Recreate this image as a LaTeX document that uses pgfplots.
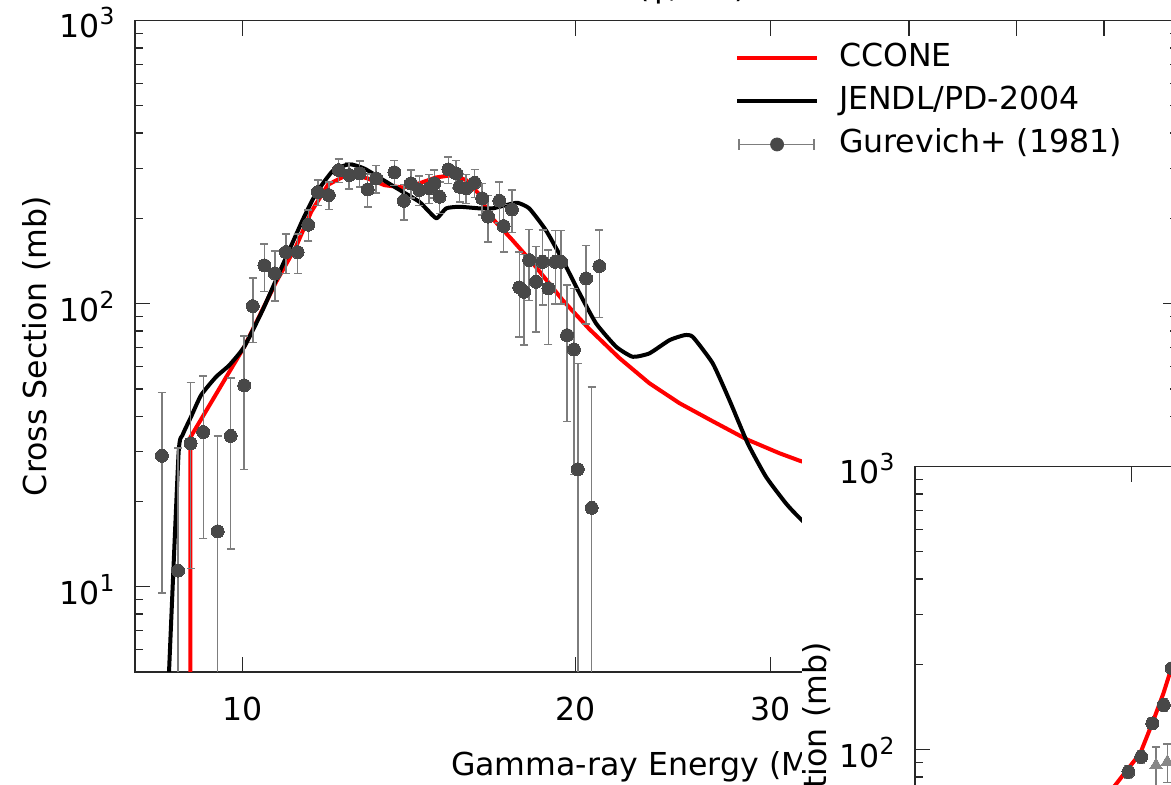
\documentclass[border=0pt]{standalone}
\usepackage{pgfplots}
\pgfplotsset{compat=1.18}
\usepackage{pgfplotstable}
\usepackage{fontspec}
\setmainfont{DejaVu Sans}

\definecolor{cconered}{RGB}{255,0,0}
\definecolor{ptgray}{RGB}{72,72,72}
\definecolor{bargray}{RGB}{125,125,125}
\definecolor{framec}{RGB}{40,40,40}
\definecolor{trigray}{RGB}{135,135,135}

% power-of-ten tick label with a gnuplot-like raised exponent
\newcommand{\pten}[1]{10\raisebox{6.5pt}{\fontsize{11.7pt}{14pt}\selectfont #1}}

% Gurevich+ (1981): energy (MeV), cross section (mb), error up, error down
\pgfplotstableread{
E S EP EM
8.46 29.0 19.5 19.5
8.75 11.4 19.5 10.4
8.98 32.1 20.5 20.5
9.22 35.2 20.4 20.4
9.50 15.7 18.4 14.7
9.76 34.1 20.5 20.5
10.04 51.4 25.4 25.4
10.22 98.0 25.0 25.0
10.47 136.5 26.0 26.0
10.70 127.8 25.5 25.5
10.95 152.1 24.2 24.2
11.22 152.0 24.2 24.2
11.47 190.0 23.7 23.7
11.70 247.7 25.5 25.5
11.97 241.7 27.0 27.0
12.22 296.3 28.3 28.3
12.49 284.5 30.0 30.0
12.76 288.4 30.0 30.0
12.98 253.0 34.0 34.0
13.21 277.0 31.0 31.0
13.72 291.0 29.5 29.5
13.99 230.8 33.0 33.0
14.20 266.0 30.0 30.0
14.45 251.8 30.0 30.0
14.75 255.3 30.0 30.0
14.91 265.9 30.0 30.0
15.07 238.4 30.0 30.0
15.35 298.0 32.0 32.0
15.60 288.4 32.0 32.0
15.71 258.6 30.0 30.0
15.93 255.3 30.0 30.0
16.21 267.3 30.0 30.0
16.47 235.3 30.0 30.0
16.67 203.0 38.0 38.0
17.07 230.8 38.0 38.0
17.22 187.9 36.0 36.0
17.52 215.2 37.0 37.0
17.79 114.1 38.0 38.0
17.97 110.1 38.8 38.8
18.16 142.5 40.0 40.0
18.42 119.4 40.0 40.0
18.67 140.5 41.5 41.5
18.90 113.2 41.5 41.5
19.18 140.5 41.0 41.0
19.41 140.5 41.0 41.0
19.65 77.4 39.0 39.0
19.93 68.9 44.0 44.0
20.09 26.0 35.5 25.0
20.44 122.7 38.0 38.0
20.68 19.0 31.8 18.0
21.01 135.7 46.5 46.5
}\gurevich

% second panel: measured points
\pgfplotstableread{
E S EP EM
9.944 83.5 4 4
10.21 94.3 5 5
10.45 123.8 6 6
10.70 143.8 7 7
10.88 194.0 8 8
}\insetcirc
\pgfplotstableread{
E S EP EM
10.53 88.1 14 14
10.78 90.5 14 14
}\insettri

\begin{document}
\begin{tikzpicture}[font=\fontsize{15.8pt}{19pt}\selectfont]
\useasboundingbox (0,0) rectangle (585.5pt,392.5pt);
\clip (0,0) rectangle (585.5pt,392.5pt);

\begin{axis}[at={(67.5pt,56.5pt)}, anchor=south west,
  scale only axis, width=521.5pt, height=325.75pt,
  xmode=log, ymode=log, xmin=8, xmax=70, ymin=5, ymax=1000,
  xtick={10,20,30,40,50,60,70}, xticklabels={10,20,30,40,50,60,70},
  ytick={10,100,1000}, yticklabels={\pten{1},\pten{2},\pten{3}},
  minor ytick={6,7,8,9,20,30,40,50,60,70,80,90,200,300,400,500,600,700,800,900},
  minor xtick={},
  tick align=inside,
  major tick length=7.75pt, minor tick length=4pt,
  tick style={framec, line width=0.7pt},
  axis line style={framec, line width=0.7pt},
  xticklabel style={inner sep=0pt, yshift=-12.5pt},
  yticklabel style={inner sep=0pt, xshift=-10pt, yshift=-1.25pt},
  xlabel={Gamma-ray Energy (MeV)}, ylabel={Cross Section (mb)},
  xlabel style={at={(axis description cs:0.5,0)}, anchor=base, yshift=-52pt},
  ylabel style={at={(axis description cs:-0.0845,0.5)}, rotate=0, anchor=base},
  title={\textsuperscript{63}Cu(γ,abs)},
  title style={at={(axis description cs:0.5,1)}, anchor=base, yshift=5.5pt},
  legend cell align=left,
  legend style={at={(axis description cs:0.5753,0.9655)}, anchor=north west,
    draw=none, fill=none, inner sep=0pt, outer sep=0pt,
    row sep=6pt, column sep=10pt,
    nodes={inner sep=0pt, text height=12pt, text depth=3.5pt}},
]
\addplot[cconered, line width=2pt, line join=round,
  legend image code/.code={\draw[cconered, line width=2pt] (0pt,0pt) -- (40pt,0pt);}]
  coordinates {(8.975,1) (8.976,33.7) (10.04,70.4) (10.73,119.4) (11.18,158.8)
  (11.54,211) (11.95,263) (12.49,287.7) (12.97,277) (13.44,262) (13.98,257)
  (14.45,266) (14.96,279) (15.49,284.5) (15.93,273) (16.37,243) (16.72,205)
  (17.54,167.6) (18.35,137) (19.47,102.9) (20.58,81.26) (21.91,64.18)
  (23.31,52.37) (24.82,44.5) (26.59,38.44) (28.53,33.2) (30.55,29.63)
  (31.86,27.88) (34.6,25.18)};
\addlegendentry{CCONE}

\addplot[black, line width=2pt, line join=round, smooth, tension=0.3,
  legend image code/.code={\draw[black, line width=2pt] (0pt,0pt) -- (40pt,0pt);}]
  coordinates {(8.565,3.97) (8.757,29.15) (8.831,34.3) (8.988,39.8) (9.178,47.5)
  (9.468,55.1) (9.733,60.6) (10.04,70.4) (10.431,94.8) (10.874,136.8)
  (11.336,197.2) (11.657,245.1) (12.066,293.9) (12.494,310.7) (12.89,299.9)
  (13.39,274) (13.96,248.3) (14.45,228.9) (14.7,214) (14.98,200) (15.28,217)
  (15.71,219.8) (16.37,217) (16.83,217) (17.31,222.8) (17.72,227.1) (18.16,217)
  (18.80,181.9) (19.47,142.5) (20.16,108.9) (20.87,85.1) (21.76,70.4)
  (22.52,64.9) (23.31,66.7) (24.31,74.3) (25.08,77.4) (25.52,76.3) (26.6,61.5)
  (27.54,45.6) (28.61,32.06) (29.72,24.43) (30.98,19.68) (31.9,17.42) (34.6,12.9)};
\addlegendentry{JENDL/PD-2004}

\addplot[only marks, mark=*, mark size=3.25pt,
  mark options={draw=ptgray, fill=ptgray, line width=0pt},
  legend image code/.code={
    \draw[bargray, line width=0.75pt] (1pt,0pt) -- (38.5pt,0pt);
    \draw[bargray, line width=0.75pt] (1pt,-2.75pt) -- (1pt,2.75pt);
    \draw[bargray, line width=0.75pt] (38.5pt,-2.75pt) -- (38.5pt,2.75pt);
    \fill[ptgray] (20pt,0pt) circle (3.25pt);},
  error bars/y dir=both, error bars/y explicit,
  error bars/error bar style={bargray, line width=0.75pt},
  error bars/error mark options={rotate=90, bargray, mark size=2pt, line width=0.75pt}]
  table[x=E, y=S, y error plus=EP, y error minus=EM]{\gurevich};
\addlegendentry{Gurevich+ (1981)}
\end{axis}

% the neighbouring panel sits on top of this one
\fill[white] (401pt,-200pt) rectangle (600pt,172.5pt);

\begin{axis}[at={(457.5pt,-166.5pt)}, anchor=south west,
  scale only axis, width=521.5pt, height=325.75pt,
  xmode=log, ymode=log, xmin=6.38, xmax=55.8, ymin=5, ymax=1000,
  xtick={10,20,30,40,50}, xticklabels={10,20,30,40,50},
  ytick={10,100,1000}, yticklabels={\pten{1},\pten{2},\pten{3}},
  minor ytick={6,7,8,9,20,30,40,50,60,70,80,90,200,300,400,500,600,700,800,900},
  minor xtick={},
  tick align=inside,
  major tick length=7.75pt, minor tick length=4pt,
  tick style={framec, line width=0.7pt},
  axis line style={framec, line width=0.7pt},
  xticklabel style={inner sep=0pt, yshift=-12.5pt},
  yticklabel style={inner sep=0pt, xshift=-10pt, yshift=-1.25pt},
  xlabel={Gamma-ray Energy (MeV)}, ylabel={Cross Section (mb)},
  xlabel style={at={(axis description cs:0.5,0)}, anchor=base, yshift=-52pt},
  ylabel style={at={(axis description cs:-0.0845,0.5)}, rotate=0, anchor=base},
]
\addplot[only marks, mark=*, mark size=3.25pt,
  mark options={draw=ptgray, fill=ptgray, line width=0pt},
  error bars/y dir=both, error bars/y explicit,
  error bars/error bar style={bargray, line width=0.75pt},
  error bars/error mark options={rotate=90, bargray, mark size=2pt, line width=0.75pt}]
  table[x=E, y=S, y error plus=EP, y error minus=EM]{\insetcirc};
\addplot[only marks, mark=triangle*, mark size=3.6pt,
  mark options={draw=trigray, fill=trigray, line width=0pt},
  error bars/y dir=both, error bars/y explicit,
  error bars/error bar style={bargray, line width=0.75pt},
  error bars/error mark options={rotate=90, bargray, mark size=2pt, line width=0.75pt}]
  table[x=E, y=S, y error plus=EP, y error minus=EM]{\insettri};
\addplot[cconered, line width=2pt, line join=round]
  coordinates {(9.0,55) (9.3,62) (9.673,74.9) (9.911,84.6) (10.189,97.0)
  (10.475,127.2) (10.695,158.4) (10.87,193.6) (11.1,240)};
\end{axis}
\end{tikzpicture}
\end{document}
